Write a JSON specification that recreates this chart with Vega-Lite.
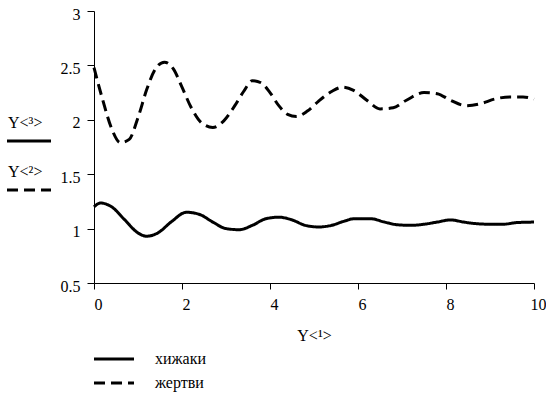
{
  "$schema": "https://vega.github.io/schema/vega-lite/v6.json",
  "width": 440,
  "height": 272,
  "autosize": {"type": "none"},
  "padding": {"left": 94, "top": 11, "right": 12, "bottom": 115},
  "background": "white",
  "config": {
    "font": "Liberation Serif",
    "view": {"stroke": null},
    "axis": {
      "domainColor": "black",
      "tickColor": "black",
      "labelColor": "black",
      "titleColor": "black",
      "labelFont": "Liberation Serif",
      "titleFont": "Liberation Serif",
      "labelFontSize": 16,
      "titleFontSize": 16,
      "titleFontWeight": "normal",
      "grid": false
    },
    "legend": {
      "labelFont": "Liberation Serif",
      "labelFontSize": 16,
      "labelColor": "black",
      "padding": 0
    }
  },
  "data": {
    "values": [
      {"t": 0, "v": 1.20, "who": "хижаки", "yname": "Y˂³˃"},
      {"t": 0.15, "v": 1.235, "who": "хижаки", "yname": "Y˂³˃"},
      {"t": 0.4, "v": 1.20, "who": "хижаки", "yname": "Y˂³˃"},
      {"t": 0.7, "v": 1.08, "who": "хижаки", "yname": "Y˂³˃"},
      {"t": 1.0, "v": 0.96, "who": "хижаки", "yname": "Y˂³˃"},
      {"t": 1.2, "v": 0.93, "who": "хижаки", "yname": "Y˂³˃"},
      {"t": 1.45, "v": 0.96, "who": "хижаки", "yname": "Y˂³˃"},
      {"t": 1.75, "v": 1.06, "who": "хижаки", "yname": "Y˂³˃"},
      {"t": 2.1, "v": 1.15, "who": "хижаки", "yname": "Y˂³˃"},
      {"t": 2.4, "v": 1.13, "who": "хижаки", "yname": "Y˂³˃"},
      {"t": 2.7, "v": 1.06, "who": "хижаки", "yname": "Y˂³˃"},
      {"t": 3.0, "v": 1.00, "who": "хижаки", "yname": "Y˂³˃"},
      {"t": 3.3, "v": 0.99, "who": "хижаки", "yname": "Y˂³˃"},
      {"t": 3.6, "v": 1.03, "who": "хижаки", "yname": "Y˂³˃"},
      {"t": 3.9, "v": 1.09, "who": "хижаки", "yname": "Y˂³˃"},
      {"t": 4.2, "v": 1.105, "who": "хижаки", "yname": "Y˂³˃"},
      {"t": 4.5, "v": 1.08, "who": "хижаки", "yname": "Y˂³˃"},
      {"t": 4.8, "v": 1.03, "who": "хижаки", "yname": "Y˂³˃"},
      {"t": 5.1, "v": 1.015, "who": "хижаки", "yname": "Y˂³˃"},
      {"t": 5.4, "v": 1.03, "who": "хижаки", "yname": "Y˂³˃"},
      {"t": 5.7, "v": 1.07, "who": "хижаки", "yname": "Y˂³˃"},
      {"t": 5.9, "v": 1.09, "who": "хижаки", "yname": "Y˂³˃"},
      {"t": 6.3, "v": 1.09, "who": "хижаки", "yname": "Y˂³˃"},
      {"t": 6.6, "v": 1.06, "who": "хижаки", "yname": "Y˂³˃"},
      {"t": 6.9, "v": 1.035, "who": "хижаки", "yname": "Y˂³˃"},
      {"t": 7.2, "v": 1.03, "who": "хижаки", "yname": "Y˂³˃"},
      {"t": 7.5, "v": 1.04, "who": "хижаки", "yname": "Y˂³˃"},
      {"t": 7.8, "v": 1.06, "who": "хижаки", "yname": "Y˂³˃"},
      {"t": 8.1, "v": 1.08, "who": "хижаки", "yname": "Y˂³˃"},
      {"t": 8.4, "v": 1.06, "who": "хижаки", "yname": "Y˂³˃"},
      {"t": 8.7, "v": 1.045, "who": "хижаки", "yname": "Y˂³˃"},
      {"t": 9.0, "v": 1.04, "who": "хижаки", "yname": "Y˂³˃"},
      {"t": 9.3, "v": 1.04, "who": "хижаки", "yname": "Y˂³˃"},
      {"t": 9.6, "v": 1.055, "who": "хижаки", "yname": "Y˂³˃"},
      {"t": 10, "v": 1.06, "who": "хижаки", "yname": "Y˂³˃"},
      {"t": 0, "v": 2.48, "who": "жертви", "yname": "Y˂²˃"},
      {"t": 0.2, "v": 2.18, "who": "жертви", "yname": "Y˂²˃"},
      {"t": 0.4, "v": 1.92, "who": "жертви", "yname": "Y˂²˃"},
      {"t": 0.6, "v": 1.79, "who": "жертви", "yname": "Y˂²˃"},
      {"t": 0.8, "v": 1.82, "who": "жертви", "yname": "Y˂²˃"},
      {"t": 1.0, "v": 2.02, "who": "жертви", "yname": "Y˂²˃"},
      {"t": 1.2, "v": 2.28, "who": "жертви", "yname": "Y˂²˃"},
      {"t": 1.4, "v": 2.47, "who": "жертви", "yname": "Y˂²˃"},
      {"t": 1.6, "v": 2.53, "who": "жертви", "yname": "Y˂²˃"},
      {"t": 1.8, "v": 2.47, "who": "жертви", "yname": "Y˂²˃"},
      {"t": 2.0, "v": 2.30, "who": "жертви", "yname": "Y˂²˃"},
      {"t": 2.2, "v": 2.12, "who": "жертви", "yname": "Y˂²˃"},
      {"t": 2.45, "v": 1.97, "who": "жертви", "yname": "Y˂²˃"},
      {"t": 2.7, "v": 1.93, "who": "жертви", "yname": "Y˂²˃"},
      {"t": 2.95, "v": 1.99, "who": "жертви", "yname": "Y˂²˃"},
      {"t": 3.2, "v": 2.13, "who": "жертви", "yname": "Y˂²˃"},
      {"t": 3.4, "v": 2.26, "who": "жертви", "yname": "Y˂²˃"},
      {"t": 3.6, "v": 2.36, "who": "жертви", "yname": "Y˂²˃"},
      {"t": 3.8, "v": 2.34, "who": "жертви", "yname": "Y˂²˃"},
      {"t": 4.0, "v": 2.25, "who": "жертви", "yname": "Y˂²˃"},
      {"t": 4.2, "v": 2.13, "who": "жертви", "yname": "Y˂²˃"},
      {"t": 4.4, "v": 2.05, "who": "жертви", "yname": "Y˂²˃"},
      {"t": 4.6, "v": 2.03, "who": "жертви", "yname": "Y˂²˃"},
      {"t": 4.85, "v": 2.08, "who": "жертви", "yname": "Y˂²˃"},
      {"t": 5.1, "v": 2.17, "who": "жертви", "yname": "Y˂²˃"},
      {"t": 5.4, "v": 2.26, "who": "жертви", "yname": "Y˂²˃"},
      {"t": 5.65, "v": 2.30, "who": "жертви", "yname": "Y˂²˃"},
      {"t": 5.9, "v": 2.27, "who": "жертви", "yname": "Y˂²˃"},
      {"t": 6.2, "v": 2.18, "who": "жертви", "yname": "Y˂²˃"},
      {"t": 6.5, "v": 2.10, "who": "жертви", "yname": "Y˂²˃"},
      {"t": 6.8, "v": 2.11, "who": "жертви", "yname": "Y˂²˃"},
      {"t": 7.1, "v": 2.18, "who": "жертви", "yname": "Y˂²˃"},
      {"t": 7.5, "v": 2.25, "who": "жертви", "yname": "Y˂²˃"},
      {"t": 7.8, "v": 2.24, "who": "жертви", "yname": "Y˂²˃"},
      {"t": 8.1, "v": 2.18, "who": "жертви", "yname": "Y˂²˃"},
      {"t": 8.45, "v": 2.13, "who": "жертви", "yname": "Y˂²˃"},
      {"t": 8.8, "v": 2.15, "who": "жертви", "yname": "Y˂²˃"},
      {"t": 9.1, "v": 2.19, "who": "жертви", "yname": "Y˂²˃"},
      {"t": 9.45, "v": 2.21, "who": "жертви", "yname": "Y˂²˃"},
      {"t": 9.75, "v": 2.21, "who": "жертви", "yname": "Y˂²˃"},
      {"t": 10, "v": 2.19, "who": "жертви", "yname": "Y˂²˃"}
    ]
  },
  "mark": {"type": "line", "strokeWidth": 3, "color": "black", "interpolate": "monotone", "clip": false},
  "encoding": {
    "x": {
      "field": "t",
      "type": "quantitative",
      "scale": {"domain": [0, 10], "nice": false, "zero": false},
      "axis": {
        "values": [0, 2, 4, 6, 8, 10],
        "labelExpr": "'' + datum.value",
        "title": "Y˂¹˃",
        "tickSize": 6,
        "labelPadding": 7,
        "labelOffset": 4,
        "labelFlush": false,
        "titlePadding": 15,
        "encode": {"ticks": {"update": {"y": {"value": -6}}}}
      }
    },
    "y": {
      "field": "v",
      "type": "quantitative",
      "scale": {"domain": [0.5, 3], "nice": false, "zero": false},
      "axis": {
        "values": [0.5, 1, 1.5, 2, 2.5, 3],
        "labelExpr": "'' + datum.value",
        "title": null,
        "tickSize": 7,
        "labelPadding": 7,
        "labelOffset": 3,
        "labelFlush": false,
        "encode": {"ticks": {"update": {"x": {"value": 7}}}}
      }
    },
    "strokeDash": {
      "field": "who",
      "type": "nominal",
      "scale": {"domain": ["хижаки", "жертви"], "range": [[1, 0], [11, 6]]},
      "legend": {
        "title": null,
        "orient": "none",
        "legendX": 12,
        "legendY": 340,
        "symbolType": "M-20,0H20",
        "symbolSize": 4,
        "symbolStrokeWidth": 3,
        "symbolStrokeColor": "black",
        "labelOffset": 33,
        "rowPadding": 8
      }
    },
    "opacity": {
      "field": "yname",
      "type": "nominal",
      "scale": {"domain": ["Y˂³˃", "Y˂²˃"], "range": [1, 1]},
      "legend": {
        "title": null,
        "orient": "none",
        "legendX": -73,
        "legendY": 122,
        "symbolType": "M-22,0H22",
        "symbolSize": 4,
        "symbolStrokeWidth": 3,
        "symbolStrokeColor": "black",
        "labelOffset": -29,
        "labelBaseline": "alphabetic",
        "rowPadding": 17,
        "encode": {
          "labels": {"update": {"dy": {"value": -13}}},
          "symbols": {"update": {"strokeDash": {"signal": "datum.value === 'Y˂²˃' ? [11, 6] : [1, 0]"}}}
        }
      }
    }
  }
}
